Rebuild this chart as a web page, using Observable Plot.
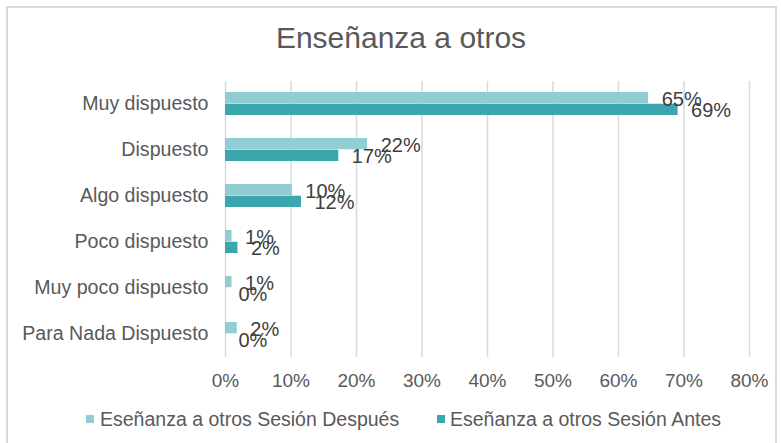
<!DOCTYPE html>
<html>
<head>
<meta charset="utf-8">
<script src="https://cdn.jsdelivr.net/npm/d3@7"></script>
<script src="https://cdn.jsdelivr.net/npm/@observablehq/plot@0.6"></script>
<style>
  html, body { margin: 0; padding: 0; background: #fff; }
  body { width: 781px; height: 443px; overflow: hidden; position: relative; font-family: "Liberation Sans", Arial, sans-serif; }
  #frame { position: absolute; left: 6px; top: 6px; width: 771px; height: 460px; border: 2px solid #d9d9d9; box-sizing: border-box; }
  #title { position: absolute; left: 0; width: 802px; top: 20px; text-align: center; font-size: 30px; color: #595959; line-height: 36px; }
  #chart { position: absolute; left: 0; top: 0; }
  .leg { position: absolute; font-size: 19.5px; color: #595959; line-height: 22px; white-space: nowrap; }
  .sw { position: absolute; width: 8px; height: 8px; }
</style>
</head>
<body>
<div id="frame"></div>
<div id="title">Enseñanza a otros</div>
<div id="chart"></div>
<div id="legend"></div>
<script>
const categories = ["Muy dispuesto", "Dispuesto", "Algo dispuesto", "Poco dispuesto", "Muy poco dispuesto", "Para Nada Dispuesto"];
const seriesNames = ["Eseñanza a otros Sesión Después", "Eseñanza a otros Sesión Antes"];
const despues = [64.6, 21.7, 10.2, 1.0, 1.0, 1.8];
const antes = [69.1, 17.3, 11.6, 1.9, 0, 0];
const xTicks = [0, 10, 20, 30, 40, 50, 60, 70, 80];
const colors = ["#92cdd4", "#3ba6ae"];

const dDesp = categories.map((c, i) => ({cat: c, v: despues[i]}));
const dAnt = categories.map((c, i) => ({cat: c, v: antes[i]}));

const W = 781, H = 400, mTop = 81, mBottom = H - 357, mLeft = 225, mRight = 781 - 749;
const step = (H - mTop - mBottom) / 6;
const bw = step * 0.51;

const chart = Plot.plot({
  width: W, height: H,
  marginTop: mTop, marginBottom: mBottom, marginLeft: mLeft, marginRight: mRight,
  style: {fontFamily: "'Liberation Sans', Arial, sans-serif", color: "#595959", background: "transparent"},
  x: {domain: [0, 80], ticks: xTicks, tickFormat: d => d + "%"},
  y: {domain: categories, paddingInner: 0.49, paddingOuter: 0.245},
  marks: [
    Plot.gridX(xTicks, {stroke: "#d9d9d9", strokeOpacity: 1, strokeWidth: 1.5}),
    Plot.barX(dDesp, {x: "v", y: "cat", fill: colors[0], insetBottom: bw / 2}),
    Plot.barX(dAnt, {x: "v", y: "cat", fill: colors[1], insetTop: bw / 2}),
    Plot.text(dDesp, {x: "v", y: "cat", text: d => Math.round(d.v) + "%", textAnchor: "start", dx: 13, dy: -bw / 4 + 1, fontSize: 20, fill: "#404040"}),
    Plot.text(dAnt, {x: "v", y: "cat", text: d => Math.round(d.v) + "%", textAnchor: "start", dx: 13, dy: bw / 4 + 1, fontSize: 20, fill: "#404040"}),
    Plot.axisX({ticks: xTicks, tickFormat: d => d + "%", tickSize: 0, tickPadding: 16, fontSize: 19, label: null}),
    Plot.axisY({tickSize: 0, tickPadding: 17, fontSize: 19.6, label: null})
  ]
});
document.getElementById("chart").appendChild(chart);

// legend
const legend = document.getElementById("legend");
const legPos = [{sw: 86, tx: 100}, {sw: 437, tx: 450}];
seriesNames.forEach((name, i) => {
  const sw = document.createElement("div");
  sw.className = "sw";
  sw.style.left = legPos[i].sw + "px";
  sw.style.top = "415px";
  sw.style.background = colors[i];
  legend.appendChild(sw);
  const t = document.createElement("div");
  t.className = "leg";
  t.style.left = legPos[i].tx + "px";
  t.style.top = "408px";
  t.textContent = name;
  legend.appendChild(t);
});
</script>
</body>
</html>
